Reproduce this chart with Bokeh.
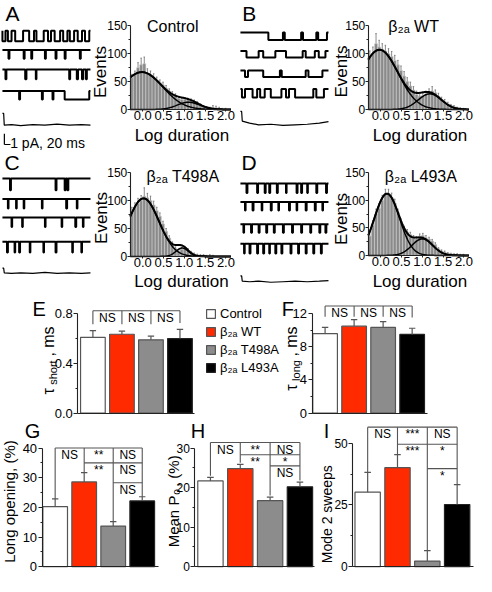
import numpy as np
from bokeh.plotting import figure
from bokeh.layouts import row, column
from bokeh.models import (Range1d, FixedTicker, PrintfTickFormatter, Label, Legend, LegendItem,
                          LinearAxis)
from bokeh.core.properties import value
from bokeh.embed import file_html
from bokeh.resources import INLINE

# ------------------------------------------------------------------ data
GROUPS = ["Control", "β₂ₐ WT", "β₂ₐ T498A", "β₂ₐ L493A"]
CAT_X = [1, 2, 3, 4]

TAU_SHORT = [0.61, 0.635, 0.59, 0.60]
TAU_SHORT_ERR = [0.055, 0.025, 0.03, 0.075]
TAU_LONG = [9.6, 10.5, 10.35, 9.5]
TAU_LONG_ERR = [0.75, 0.8, 0.7, 0.75]
LONG_OPEN = [20.3, 28.6, 13.7, 22.2]
LONG_OPEN_ERR = [2.6, 3.1, 1.5, 1.4]
MEAN_PO = [21.7, 24.8, 16.7, 20.2]
MEAN_PO_ERR = [0.9, 1.1, 0.9, 1.2]
MODE2 = [30.2, 40.1, 2.3, 25.2]
MODE2_ERR = [8.0, 5.3, 4.2, 8.0]

SIG_EF = [(1, 4, ["NS", "NS", "NS"])]
SIG_G = [(1, 4, ["NS", "**", "NS"]), (2, 4, ["**", "NS"]), (3, 4, ["NS"])]
SIG_H = [(1, 4, ["NS", "**", "NS"]), (2, 4, ["**", "*"]), (3, 4, ["NS"])]
SIG_I = [(1, 4, ["NS", "***", "NS"]), (2, 4, ["***", "*"]), (3, 4, ["*"])]

# log-duration histograms
BIN_CENTERS = [-0.2625, -0.1875, -0.1125, -0.0375, 0.0375, 0.1125, 0.1875, 0.2625,
               0.3375, 0.4125, 0.4875, 0.5625, 0.6375, 0.7125, 0.7875, 0.8625,
               0.9375, 1.0125, 1.0875, 1.1625, 1.2375, 1.3125, 1.3875, 1.4625,
               1.5375, 1.6125, 1.6875, 1.7625, 1.8375, 1.9125, 1.9875]
A_COUNTS = [57, 62, 75, 80, 82, 65, 62, 58, 52, 48, 44, 38, 33, 28, 24, 20,
            18, 18, 17, 16, 14, 11, 8, 5, 3, 2, 4, 3, 2, 1, 1]
A_ERR = [6, 7, 9, 12, 12, 8, 7, 6, 6, 5, 5, 5, 4, 4, 4, 3,
         3, 3, 3, 3, 3, 3, 2, 2, 2, 2, 3, 3, 2, 1, 1]
B_COUNTS = [95, 100, 118, 112, 108, 105, 100, 95, 88, 80, 70, 60, 50, 42, 35, 27,
            24, 25, 27, 30, 33, 30, 24, 18, 14, 10, 7, 5, 3, 2, 1]
B_ERR = [10, 12, 18, 12, 10, 10, 9, 9, 9, 8, 8, 8, 7, 7, 6, 6,
         5, 5, 6, 7, 8, 5, 5, 4, 4, 3, 2, 2, 1, 1, 1]
C_COUNTS = [80, 88, 95, 100, 108, 105, 100, 92, 82, 72, 58, 45, 33, 22, 14, 10,
            13, 15, 11, 7, 4, 3, 2, 2, 1, 2, 1, 0, 0, 0, 0]
C_ERR = [8, 8, 9, 9, 15, 8, 8, 7, 6, 6, 5, 5, 4, 4, 3, 3,
         3, 3, 3, 2, 2, 1, 1, 1, 1, 1, 1, 0, 0, 0, 0]
D_COUNTS = [35, 55, 75, 85, 100, 110, 112, 105, 95, 78, 60, 48, 42, 38, 32, 30,
            35, 36, 32, 30, 26, 20, 12, 8, 6, 4, 3, 2, 2, 1, 1]
D_ERR = [8, 8, 9, 9, 9, 10, 8, 8, 7, 6, 6, 5, 5, 4, 4, 4,
         4, 4, 4, 3, 3, 3, 2, 2, 2, 1, 1, 1, 1, 1, 1]
# two-gaussian fits: (amplitude, mean, sd)
A_FIT = [(67, -0.02, 0.50), (13, 1.10, 0.27)]
B_FIT = [(107, -0.03, 0.45), (28, 1.18, 0.28)]
C_FIT = [(104, 0.02, 0.37), (15, 0.95, 0.15)]
D_FIT = [(112, 0.15, 0.30), (30, 1.00, 0.25)]
HIST_TITLES = ["Control", "β₂ₐ WT", "β₂ₐ T498A", "β₂ₐ L493A"]

# single-channel sweeps: openings (start ms, end ms), amplitude in pA
SWEEP_END_MS = 290
A_EVENTS = [
    [(0, 10), (18, 30), (42, 68), (88, 104), (112, 136), (150, 160), (172, 190),
     (200, 214), (222, 236), (248, 262), (272, 286)],
    [(20, 23), (70, 73), (95, 98), (140, 143), (175, 178), (205, 208), (255, 258)],
    [(10, 13), (75, 79), (110, 112), (220, 223), (245, 249), (262, 266), (275, 278)],
    [(55, 58), (130, 133), (165, 168), (205, 286)],
]
A_AMP = [1.0, 0.8, 0.9, 0.8]
B_EVENTS = [
    [(92, 140), (146, 200), (206, 250), (256, 285)],
    [(20, 60), (75, 115), (150, 205), (215, 245), (258, 280)],
    [(15, 25), (75, 130), (136, 215), (224, 270)],
    [(5, 15), (40, 55), (65, 80), (100, 135), (150, 160), (180, 240), (250, 275)],
]
B_AMP = [0.7, 0.6, 0.6, 0.8]
C_EVENTS = [
    [(25, 28), (175, 178), (205, 208), (214, 217)],
    [(18, 20), (45, 47), (70, 72), (130, 132), (210, 213), (245, 247)],
    [(30, 32), (65, 67), (140, 142), (195, 197), (240, 243), (265, 267)],
    [(15, 18), (40, 42), (55, 58), (90, 92), (135, 137), (175, 178), (230, 232), (260, 262)],
]
C_AMP = [1.1, 0.9, 0.9, 1.0]
D_EVENTS = [
    [(20, 23), (55, 58), (80, 83), (95, 98), (120, 123), (150, 152), (185, 188),
     (200, 203), (220, 222), (250, 253), (282, 285)],
    [(15, 17), (40, 43), (70, 72), (100, 103), (125, 127), (160, 163), (185, 187),
     (215, 218), (245, 248), (270, 272)],
    [(10, 12), (35, 38), (60, 63), (85, 88), (110, 113), (140, 143), (170, 173),
     (200, 203), (230, 233), (260, 263), (280, 283)],
    [(12, 14), (30, 33), (55, 58), (75, 78), (95, 97), (115, 118), (135, 138),
     (165, 168), (190, 193), (215, 218), (240, 243), (265, 268)],
]
D_AMP = [0.9, 0.8, 0.8, 0.9]
AVG_T = [0, 4, 6, 30, 60, 100, 140, 180, 220, 260, 290]
A_AVG = [0, 0, -1.1, -1.05, -1.15, -1.05, -1.1, -1.0, -1.1, -1.05, -1.1]
B_AVG = [0, 0, -0.9, -1.1, -1.25, -1.2, -1.3, -1.25, -1.2, -1.1, -0.95]
C_AVG = [0, 0, -0.45, -0.5, -0.45, -0.5, -0.4, -0.5, -0.45, -0.5, -0.45]
D_AVG = [0, 0, -0.5, -0.55, -0.5, -0.6, -0.55, -0.5, -0.55, -0.5, -0.45]
SCALE_PA = 1.0
SCALE_MS = 20.0

# ------------------------------------------------------------------ style / layout
FONT = "Liberation Sans"
BAR_COLORS = ["#ffffff", "#ff2a00", "#8c8c8c", "#000000"]
BAR_EDGES = ["#555555", "#555555", "#555555", "#222222"]
HIST_FILL = "#8a8a8a"
BIN_WIDTH = 0.075
AXIS_COL = "#222222"
SX = 476.0 / 492.0
SY = 576.0 / 592.0
REG = {}


def make_fig(name, left, top, w, h, xmap, ymap):
    """figure whose frame is the whole canvas; xmap/ymap tie reference pixels to data"""
    ra, da, rb, db = xmap
    ppx = (rb - ra) * SX / (db - da)
    x0 = da - (ra * SX - left) / ppx
    x1 = x0 + w / ppx
    rya, dya, ryb, dyb = ymap
    ppy = (rya - ryb) * SY / (dyb - dya)
    y1 = dya + (rya * SY - top) / ppy
    y0 = y1 - h / ppy
    p = figure(width=w, height=h, x_range=Range1d(x0, x1), y_range=Range1d(y0, y1),
               output_backend="svg", toolbar_location=None, title=None,
               x_axis_location=None, y_axis_location=None,
               min_border_left=0, min_border_right=0, min_border_top=0, min_border_bottom=0)
    p.grid.visible = False
    p.outline_line_color = None
    p.background_fill_color = "white"
    p.border_fill_color = "white"
    REG[name] = (p, left, top)
    return p


def at(name, xr, yr):
    """reference-page pixel -> data coordinates of figure `name`"""
    p, L, T = REG[name]
    px = xr * SX - L
    py = yr * SY - T
    x = p.x_range.start + px / p.width * (p.x_range.end - p.x_range.start)
    y = p.y_range.end - py / p.height * (p.y_range.end - p.y_range.start)
    return x, y


def text_at(name, xr, yr, txt, size, align="center", baseline="middle", angle=0.0):
    p = REG[name][0]
    x, y = at(name, xr, yr)
    p.add_layout(Label(x=x, y=y, text=txt, text_font=FONT, text_font_size=f"{size}px",
                       text_align=align, text_baseline=baseline, angle=angle,
                       text_color="black"))


def style_axis(ax, size=13, tick_out=3, standoff=1):
    ax.axis_line_color = AXIS_COL
    ax.axis_line_width = 1.1
    ax.major_tick_line_color = AXIS_COL
    ax.minor_tick_line_color = AXIS_COL
    ax.major_tick_in = 0
    ax.major_tick_out = tick_out
    ax.minor_tick_in = 0
    ax.minor_tick_out = 2
    ax.major_label_text_font = FONT
    ax.major_label_text_font_size = f"{size}px"
    ax.major_label_text_color = "black"
    ax.major_label_standoff = standoff


def add_axis(p, side, loc, bounds, ticks, minor, size=13, tick_out=3, standoff=1, fmt=None):
    ax = LinearAxis(fixed_location=loc, bounds=bounds,
                    ticker=FixedTicker(ticks=ticks, minor_ticks=minor))
    style_axis(ax, size, tick_out, standoff)
    if not ticks:
        ax.major_tick_out = 0
        ax.minor_tick_out = 0
        ax.major_label_text_font_size = "0px"
    if fmt:
        ax.formatter = PrintfTickFormatter(format=fmt)
    p.add_layout(ax, side)
    return ax


def trace_panel(name, left, top, w, h, row_ref, x0_ref, events, amps, avg, bases, avg_base,
                scale=False):
    p = make_fig(name, left, top, w, h, (x0_ref, 0, x0_ref + 91, SWEEP_END_MS),
                 (row_ref + 11, -1, row_ref, 0))
    for ev, amp, yb in zip(events, amps, bases):
        y0 = at(name, 0, yb)[1]
        xs, ys = [0], [y0]
        for a, b in ev:
            xs += [a, a, b, b]
            ys += [y0, y0 - amp, y0 - amp, y0]
        xs.append(SWEEP_END_MS)
        ys.append(y0)
        p.line(xs, ys, line_color="black", line_width=2.0)
    y0 = at(name, 0, avg_base)[1]
    p.line(AVG_T, [y0 + v for v in avg], line_color="black", line_width=1.2)
    if scale:
        cx, cy = at(name, 4, 148)
        p.segment(x0=[cx, cx], y0=[cy, cy], x1=[cx, cx + SCALE_MS], y1=[cy + SCALE_PA, cy],
                  line_color="black", line_width=1.2)
        text_at(name, 10, 146, "1 pA, 20 ms", 14, align="left", baseline="alphabetic")
    return p


def hist_panel(name, left, top, h, xmap, ymap, counts, errs, fit):
    p = make_fig(name, left, top, 146, h, xmap, ymap)
    p.vbar(x=BIN_CENTERS, top=counts, width=BIN_WIDTH, fill_color=HIST_FILL,
           line_color="#d4d4d4", line_width=0.5)
    tops = [c + e for c, e in zip(counts, errs)]
    p.segment(x0=BIN_CENTERS, y0=counts, x1=BIN_CENTERS, y1=tops, line_color="#6e6e6e",
              line_width=0.8)
    p.segment(x0=[c - 0.018 for c in BIN_CENTERS], y0=tops,
              x1=[c + 0.018 for c in BIN_CENTERS], y1=tops, line_color="#6e6e6e", line_width=0.8)
    xs = np.linspace(-0.3, 2.12, 160)
    comps = [a * np.exp(-0.5 * ((xs - m) / s) ** 2) for a, m, s in fit]
    for c in comps:
        p.line(xs, c, line_color="black", line_width=1.5)
    p.line(xs, comps[0] + comps[1], line_color="black", line_width=2.0)
    add_axis(p, "below", 0, (-0.3, 2.12), [0, 0.5, 1.0, 1.5, 2.0], [], size=13, tick_out=2,
             standoff=0, fmt="%.1f")
    add_axis(p, "left", -0.3, (0, 150), [0, 50, 100, 150], [25, 75, 125], size=12, tick_out=3,
             standoff=0)
    return p


def brackets(p, vals, errs, sig, levels, tick, gap):
    x0, y0, x1, y1 = [], [], [], []
    tx, ty, tt = [], [], []
    for (i, j, labs), lev in zip(sig, levels):
        x0.append(i); y0.append(lev); x1.append(j); y1.append(lev)
        for k, lab in enumerate(labs):
            tx.append(i + k + 0.5); ty.append(lev); tt.append(lab)
    for k in CAT_X:
        touching = [(lev, i, j) for (i, j, _), lev in zip(sig, levels) if i <= k <= j]
        if not touching:
            continue
        hi = max(t[0] for t in touching)
        lo, i, j = min(touching)
        bottom = vals[k - 1] + errs[k - 1] + gap if k in (i, j) else lo - tick
        x0.append(k); y0.append(hi); x1.append(k); y1.append(bottom)
    p.segment(x0=x0, y0=y0, x1=x1, y1=y1, line_color="#555555", line_width=1.1)
    p.text(x=tx, y=ty, text=tt, text_font=value(FONT), text_font_size="12px",
           text_align="center", text_baseline="top", text_color="black")


def bar_panel(name, left, top, w, h, xmap, ymap, axis_x, x_end, vals, errs, ticks, minor, ytop,
              fmt=None, tick_size=13):
    p = make_fig(name, left, top, w, h, xmap, ymap)
    r = p.vbar(x=CAT_X, top=vals, width=0.85, fill_color=BAR_COLORS, line_color=BAR_EDGES,
               line_width=1.2)
    tops = [v + e for v, e in zip(vals, errs)]
    p.segment(x0=CAT_X, y0=vals, x1=CAT_X, y1=tops, line_color="#555555", line_width=1.2)
    p.segment(x0=[x - 0.11 for x in CAT_X], y0=tops, x1=[x + 0.11 for x in CAT_X], y1=tops,
              line_color="#555555", line_width=1.2)
    add_axis(p, "below", 0, (axis_x, x_end), [], [])
    add_axis(p, "left", axis_x, (0, ytop), ticks, minor, size=tick_size, tick_out=4, standoff=1,
             fmt=fmt)
    return p, r


def rot_parts(name, xb, ystart, parts):
    """rotated composite label: parts = (text, size, shift_px, advance_px)"""
    y = ystart
    for txt, size, shift, adv in parts:
        text_at(name, xb + shift, y, txt, size, align="left", baseline="alphabetic",
                angle=np.pi / 2)
        y -= adv


# ------------------------------------------------------------------ rows 1-2
R2 = 151 / SY
tA = trace_panel("tA", 0, 0, 92, 151, 0, 2, A_EVENTS, A_AMP, A_AVG, [31, 51, 71, 93], 116,
                 scale=True)
hA = hist_panel("hA", 92, 0, 151, (147, 0, 233, 2), (112, 0, 26, 150), A_COUNTS, A_ERR, A_FIT)
tB = trace_panel("tB", 238, 0, 92, 151, 0, 248, B_EVENTS, B_AMP, B_AVG, [33, 52, 72, 91], 114)
hB = hist_panel("hB", 330, 0, 151, (393, 0, 479, 2), (112, 0, 26, 150), B_COUNTS, B_ERR, B_FIT)
tC = trace_panel("tC", 0, 151, 92, 146, R2, 2, C_EVENTS, C_AMP, C_AVG, [183, 204, 223, 248], 275)
hC = hist_panel("hC", 92, 151, 146, (147, 0, 233, 2), (263, 0, 177, 150), C_COUNTS, C_ERR, C_FIT)
tD = trace_panel("tD", 238, 151, 92, 146, R2, 248, D_EVENTS, D_AMP, D_AVG, [188, 207, 230, 250],
                 283)
hD = hist_panel("hD", 330, 151, 146, (393, 0, 479, 2), (262, 0, 177, 150), D_COUNTS, D_ERR, D_FIT)

text_at("tA", 12.5, 13, "A", 21)
text_at("tB", 257, 13, "B", 21)
text_at("tC", 12, 166, "C", 21)
text_at("tD", 257, 166, "D", 21)
for nm, (cx, by), ttl in zip(["hA", "hB", "hC", "hD"],
                             [(178, 27), (427, 27), (188.5, 181), (434.5, 181)], HIST_TITLES):
    text_at(nm, cx, by, ttl, 16, baseline="alphabetic")
for nm, (cx, by) in zip(["hA", "hB", "hC", "hD"],
                        [(187.5, 139), (433.5, 139), (187, 289), (433.5, 289)]):
    text_at(nm, cx, by, "Log duration", 17, baseline="alphabetic")
for nm, (cx, cy) in zip(["hA", "hB", "hC", "hD"],
                        [(103, 73.5), (352, 73), (104, 223.5), (352, 224.5)]):
    text_at(nm, cx, cy, "Events", 17, angle=np.pi / 2)

# ------------------------------------------------------------------ row 3
pE, rE = bar_panel("E", 0, 297, 281, 124, (95.5, 1, 185.5, 4), (424, 0, 322, 0.8), 0.48, 4.5,
                   TAU_SHORT, TAU_SHORT_ERR, [0, 0.4, 0.8], [0.2, 0.6], 0.8, "%.1f")
brackets(pE, TAU_SHORT, TAU_SHORT_ERR, SIG_EF, [0.825], 0.11, 0.05)
pF, rF = bar_panel("F", 281, 297, 195, 124, (335.5, 1, 425.5, 4), (424, 0, 322, 12), 0.55, 4.52,
                   TAU_LONG, TAU_LONG_ERR, [0, 4, 8, 12], [2, 6, 10], 12)
brackets(pF, TAU_LONG, TAU_LONG_ERR, SIG_EF, [12.94], 1.3, 1.3)

legend = Legend(items=[LegendItem(label=g, renderers=[rE], index=i) for i, g in enumerate(GROUPS)],
                location=(205, 45), orientation="vertical", label_text_font=FONT,
                label_text_font_size="13px", label_text_color="black",
                glyph_width=11, glyph_height=11, label_height=17, spacing=1,
                padding=0, margin=0, label_standoff=4,
                border_line_color=None, background_fill_alpha=0)
pE.add_layout(legend)

text_at("E", 40, 317.5, "E", 20)
text_at("F", 297, 317.5, "F", 20)
rot_parts("E", 50, 405, [("τ", 16, 0, 10), ("short", 11, 4, 29), (", ms", 16, 0, 30)])
rot_parts("F", 301, 401, [("τ", 16, 0, 10), ("long", 11, 4, 25), (", ms", 16, 0, 30)])

# ------------------------------------------------------------------ row 4
pG, _ = bar_panel("G", 0, 421, 160, 155, (56.5, 1, 146.5, 4), (582, 0, 460, 40), 0.55, 4.55,
                  LONG_OPEN, LONG_OPEN_ERR, [0, 10, 20, 30, 40], [5, 15, 25, 35], 40)
brackets(pG, LONG_OPEN, LONG_OPEN_ERR, SIG_G, [40.0, 35.0, 28.3], 2.5, 0.0)
pH, _ = bar_panel("H", 160, 421, 157, 155, (217, 1, 309.5, 4), (582, 0, 460, 30), 0.48, 4.5,
                  MEAN_PO, MEAN_PO_ERR, [0, 10, 20, 30], [5, 15, 25], 30, tick_size=12)
brackets(pH, MEAN_PO, MEAN_PO_ERR, SIG_H, [31.4, 28.3, 25.5], 1.5, 0.4)
pI, _ = bar_panel("I", 317, 421, 159, 155, (379.5, 1, 472, 4), (582, 0, 455, 50), 0.5, 4.55,
                  MODE2, MODE2_ERR, [0, 25, 50], [12.5, 37.5], 50, tick_size=12)
brackets(pI, MODE2, MODE2_ERR, SIG_I, [56.5, 49.6, 39.7], 3.0, 0.0)

text_at("G", 33, 442, "G", 20)
text_at("H", 204, 442, "H", 20)
text_at("I", 337, 442, "I", 20)
text_at("G", 9, 515, "Long opening, (%)", 15, angle=np.pi / 2)
rot_parts("H", 178.5, 562, [("Mean P", 15, 0, 54), ("o", 10, 3.5, 8), (", (%)", 15, 0, 32)])
text_at("I", 337.5, 528, "Mode 2 sweeps", 14, angle=np.pi / 2)

layout = column(
    row(tA, hA, tB, hB),
    row(tC, hC, tD, hD),
    row(pE, pF),
    row(pG, pH, pI),
)

with open("out.html", "w", encoding="utf-8") as fh:
    fh.write(file_html(layout, INLINE, title="Figure"))
